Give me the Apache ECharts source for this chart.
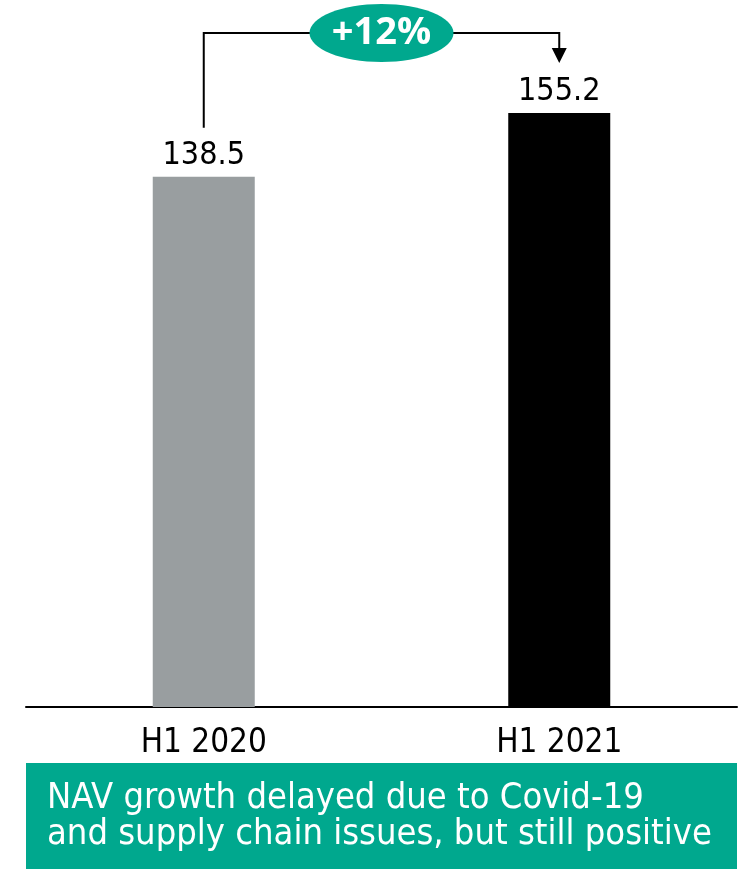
<!DOCTYPE html>
<html>
<head>
<meta charset="utf-8">
<script src="https://cdn.jsdelivr.net/npm/echarts@6/dist/echarts.min.js"></script>
<style>
  html, body { margin: 0; padding: 0; background: #fff; }
  #chart { width: 745px; height: 869px; }
</style>
</head>
<body>
<div id="chart"></div>
<script>
// NAV by half-year
const categories = ['H1 2020', 'H1 2021'];
const navValues = [138.5, 155.2];
const barColors = ['#999ea0', '#000000'];
const growthLabel = '+12%';
const captionLines = [
  'NAV growth delayed due to Covid-19',
  'and supply chain issues, but still positive'
];

const TEAL = '#00a88e';
const NARROW = "'Liberation Sans Narrow', 'DejaVu Sans Condensed', Roboto, sans-serif";

const chart = echarts.init(document.getElementById('chart'), null, { renderer: 'canvas' });

chart.setOption({
  animation: false,
  grid: { left: 26, right: 8, top: 18, bottom: 162 },
  xAxis: {
    type: 'category',
    data: categories,
    axisLine: { lineStyle: { color: '#000', width: 2 } },
    axisTick: { show: false },
    axisLabel: { color: '#000', fontSize: 33, fontFamily: NARROW, margin: 20 }
  },
  yAxis: { type: 'value', min: 0, max: 180, show: false, splitLine: { show: false } },
  series: [{
    type: 'bar',
    barWidth: 102,
    data: navValues.map((v, i) => ({ value: v, itemStyle: { color: barColors[i] } })),
    label: {
      show: true, position: 'top', distance: 5,
      color: '#000', fontSize: 32, fontFamily: NARROW
    }
  }]
});

// Growth connector between the two bars, plus the caption panel
const p1 = chart.convertToPixel({ seriesIndex: 0 }, [0, navValues[0]]);
const p2 = chart.convertToPixel({ seriesIndex: 0 }, [1, navValues[1]]);
const lineY = p2[1] - 80;
const tipY = p2[1] - 50;
const midX = (p1[0] + p2[0]) / 2;
const halfBand = (p2[0] - p1[0]) / 2;
const gridLeft = p1[0] - halfBand;
const gridRight = p2[0] + halfBand;

chart.setOption({
  graphic: [
    {
      type: 'polyline',
      shape: { points: [[p1[0], p1[1] - 49], [p1[0], lineY], [p2[0], lineY], [p2[0], tipY - 14]] },
      style: { stroke: '#000', lineWidth: 2, fill: null }
    },
    {
      type: 'polygon',
      shape: { points: [[p2[0] - 7.5, tipY - 15], [p2[0] + 7.5, tipY - 15], [p2[0], tipY]] },
      style: { fill: '#000' }
    },
    {
      type: 'ellipse',
      shape: { cx: midX, cy: lineY, rx: 72, ry: 29 },
      style: { fill: TEAL }
    },
    {
      type: 'text',
      x: midX, y: lineY,
      style: {
        text: growthLabel, fill: '#fff', fontSize: 38, fontWeight: 'bold',
        fontFamily: "'Open Sans', sans-serif", align: 'center', verticalAlign: 'middle'
      }
    },
    {
      type: 'rect',
      shape: { x: gridLeft, y: 763, width: gridRight - gridLeft, height: 106 },
      style: { fill: TEAL }
    },
    {
      type: 'text',
      x: 47, y: 799,
      style: { text: captionLines[0], fill: '#fff', fontSize: 36, fontFamily: NARROW, align: 'left', verticalAlign: 'middle' }
    },
    {
      type: 'text',
      x: 47, y: 835,
      style: { text: captionLines[1], fill: '#fff', fontSize: 36, fontFamily: NARROW, align: 'left', verticalAlign: 'middle' }
    }
  ]
});
</script>
</body>
</html>
